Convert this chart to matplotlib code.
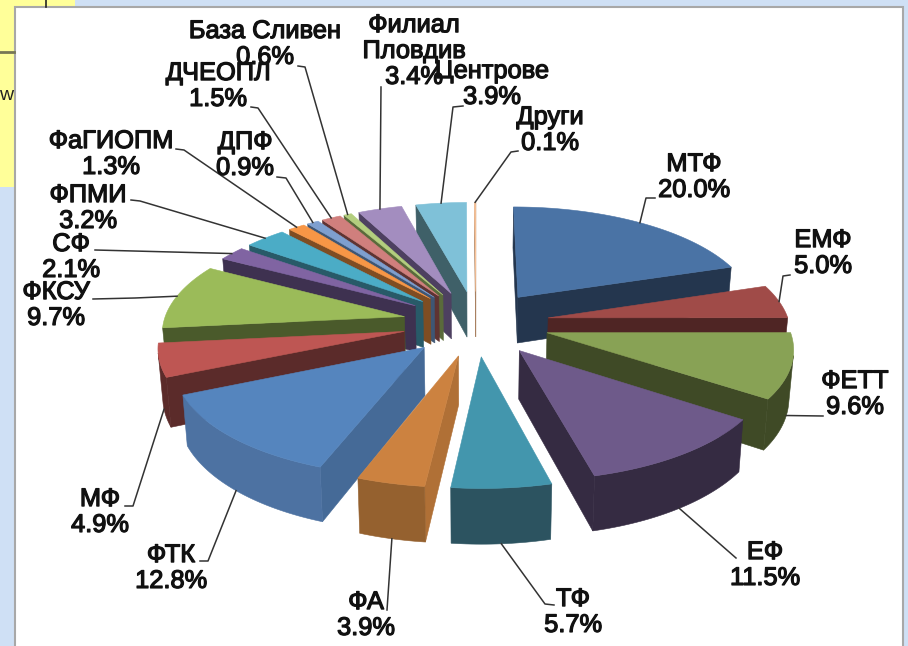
#!/usr/bin/env python
"""Exploded 3D pie of budget shares, drawn as projected polygons."""

import numpy as np
import matplotlib
matplotlib.use("Agg")
import matplotlib.pyplot as plt
import matplotlib.patheffects as pe
from matplotlib.patches import Polygon, Rectangle

LABELS = ["МТФ", "ЕМФ", "ФЕТТ", "ЕФ", "ТФ", "ФА", "ФТК", "МФ", "ФКСУ", "СФ", "ФПМИ",
          "ФаГИОПМ", "ДПФ", "ДЧЕОПЛ", "База Сливен", "Филиал\nПловдив", "Центрове", "Други"]
VALUES = [20.0, 5.0, 9.6, 11.5, 5.7, 3.9, 12.8, 4.9, 9.7, 2.1, 3.2, 1.3, 0.9, 1.5, 0.6, 3.4, 3.9, 0.1]

TOP = ["#4A73A5", "#A04B48", "#88A255", "#6E5A8A", "#4396AD", "#CC8240", "#5585BE", "#BE5653", "#9BBB59",
       "#8064A2", "#4BACC6", "#F79646", "#7E9FCF", "#D07F7D", "#B3CE7E", "#A38DBF", "#7FC1D8", "#FCC59A"]
RADIAL = ["#24364E", "#4F2524", "#3F4A26", "#352B42", "#2C5360", "#B07036", "#456A97", "#5B2B2A", "#4A5A2B",
          "#3E3150", "#285A68", "#7F4D22", "#3E5674", "#5F3332", "#5A6A3B", "#4D4060", "#3F6068", "#A88060"]
ARC = ["#24364E", "#4F2524", "#3F4A26", "#352B42", "#2C5360", "#95612F", "#4D72A2", "#5B2B2A", "#4A5A2B",
       "#3E3150", "#285A68", "#7F4D22", "#3E5674", "#5F3332", "#5A6A3B", "#4D4060", "#3F6068", "#A88060"]

# label centres and leader elbows, in pixels
LABEL_POS = [(694, 177), (823, 253), (855, 394), (765, 565), (573, 612), (366, 615), (171, 568), (100, 512),
             (56, 305), (71, 257), (88, 208), (111, 154), (245, 155), (218, 86), (265, 44), (414, 51),
             (492, 84), (550, 130)]
ELBOWS = [[(655, 198), (646, 198)], [(790, 275), (783, 276)], [(823, 416)], [(736, 558)], [(554, 605), (545, 604)],
          [(387, 610)], [(200, 561), (208, 561)], [(125, 506), (133, 506)], [(93, 299), (135, 298)], [(95, 250)],
          [(131, 200), (140, 201)], [(176, 149), (184, 150)], [(277, 177), (286, 178)], [(251, 107), (258, 108)],
          [(298, 66), (305, 67)], [(381, 87)], [(463, 106), (453, 107)], [(518, 151), (511, 152)]]

CX, CY = 476, 323
RX, RY = 241, 107
PERSP = 0.12
DEPTH = 47
EXPLODE = 0.305


def project(x, y, z=0.0):
    s = 1 / (1 + PERSP * y)
    return np.column_stack([CX + RX * x * s * (1 - 0.015 * z), CY - RY * y * s + DEPTH * s * z])


def area(pts):
    x, y = pts[:, 0], pts[:, 1]
    return 0.5 * np.sum(x * np.roll(y, -1) - np.roll(x, -1) * y)


def rim(a, mid):
    off = EXPLODE * np.array([np.sin(mid), np.cos(mid)])
    return off[0] + np.sin(a), off[1] + np.cos(a)


def main():
    plt.rcParams["font.family"] = ["Liberation Sans", "DejaVu Sans"]
    fig = plt.figure(figsize=(9.08, 6.46), dpi=100)
    ax = fig.add_axes([0, 0, 1, 1])
    ax.set_xlim(0, 908)
    ax.set_ylim(646, 0)
    ax.axis("off")

    # slide behind the chart
    ax.add_patch(Rectangle((0, 0), 908, 646, fc="#CFE0F5", ec="none"))
    ax.add_patch(Rectangle((0, 0), 75, 187, fc="#FFFF99", ec="none"))
    ax.plot([46, 46], [0, 7], color="#222222", lw=1.2)
    ax.plot([0, 14], [52, 52], color="#777755", lw=2)
    ax.text(6, 96, "w", fontsize=14, ha="center", va="center", color="#222222", clip_on=True)
    ax.add_patch(Rectangle((15, 7), 888, 650, fc="white", ec="#A8A8A8", lw=1.5))

    values = np.array(VALUES)
    edges = np.radians(np.concatenate([[0], np.cumsum(values)]) * 360 / values.sum())
    mids = (edges[:-1] + edges[1:]) / 2

    # back wedges first
    for i in np.argsort(-np.cos(mids)):
        a0, a1, mid = edges[i], edges[i + 1], mids[i]
        ang = np.linspace(a0, a1, max(4, int((a1 - a0) * 60)))
        ax0, ay0 = EXPLODE * np.sin(mid), EXPLODE * np.cos(mid)
        rx, ry = rim(ang, mid)

        apex_t, apex_b = project(np.array([ax0]), np.array([ay0])), project(np.array([ax0]), np.array([ay0]), 1)
        rim_t, rim_b = project(rx, ry), project(rx, ry, 1)

        # flat cut faces
        q0 = np.vstack([apex_t, rim_t[:1], rim_b[:1], apex_b])
        q1 = np.vstack([apex_t, rim_t[-1:], rim_b[-1:], apex_b])
        if area(q0) < 0:
            ax.add_patch(Polygon(q0, fc=RADIAL[i], ec=RADIAL[i], lw=0.4))
        if area(q1) > 0:
            ax.add_patch(Polygon(q1, fc=RADIAL[i], ec=RADIAL[i], lw=0.4))

        # visible part of the outer face
        vis = [area(np.vstack([rim_t[k], rim_t[k + 1], rim_b[k + 1], rim_b[k]])) < 0 for k in range(len(ang) - 1)]
        idx = np.flatnonzero(vis)
        if len(idx):
            lo, hi = idx[0], idx[-1] + 2
            ax.add_patch(Polygon(np.vstack([rim_t[lo:hi], rim_b[lo:hi][::-1]]), fc=ARC[i], ec=ARC[i], lw=0.4))

        ax.add_patch(Polygon(np.vstack([apex_t, rim_t]), fc=TOP[i], ec=TOP[i], lw=0.4))

    # leaders and labels
    effect = [pe.withStroke(linewidth=0.9, foreground="#111111")]
    for i, mid in enumerate(mids):
        rx, ry = rim(np.array([mid]), mid)
        anchor = project(rx, ry, 1.0 if np.cos(mid) < -0.1 else 0.0)[0]
        path = np.array(ELBOWS[i] + [tuple(anchor)])
        ax.plot(path[:, 0], path[:, 1], color="#333333", lw=1.1, zorder=4)
        ax.text(LABEL_POS[i][0], LABEL_POS[i][1], f"{LABELS[i]}\n{VALUES[i]:.1f}%", fontsize=18.3, ha="center",
                va="center", color="#111111", linespacing=1.1, path_effects=effect, zorder=5)

    fig.savefig("out.png", dpi=100)


if __name__ == "__main__":
    main()
